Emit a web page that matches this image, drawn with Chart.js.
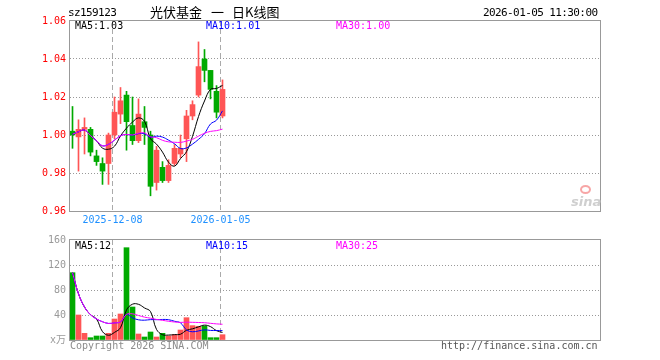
<!DOCTYPE html>
<html>
<head>
<meta charset="utf-8">
<script src="https://cdn.jsdelivr.net/npm/chart.js@4.4.1/dist/chart.umd.min.js"></script>
<style>
body { margin: 0; background: #fff; }
#wrap { position: relative; width: 660px; height: 360px; overflow: hidden; font-family: 'DejaVu Sans Mono', monospace; }
canvas { position: absolute; left: 0; }
.t { position: absolute; white-space: pre; font-size: 10px; line-height: 12px; }
.big { font-size: 11px; line-height: 13px; letter-spacing: -0.6px; }
.cn { position: absolute; font-family: 'Noto Sans CJK SC', sans-serif; font-size: 13px; line-height: 14px; color: #000; }
</style>
</head>
<body>
<div id="wrap">
  <canvas id="priceChart" width="660" height="230" style="top:0"></canvas>
  <canvas id="volChart" width="660" height="130" style="top:230px"></canvas>

  <div class="t big" style="left:68px;top:6px">sz159123</div>
  <div class="cn" style="left:150px;top:5px">光伏基金</div>
  <div class="cn" style="left:211px;top:5px">一</div>
  <div class="cn" style="left:232px;top:5px">日K线图</div>
  <div class="t big" style="left:483px;top:6px">2026-01-05 11:30:00</div>

  <div class="t" style="left:75px;top:20px;color:#000">MA5:1.03</div>
  <div class="t" style="left:206px;top:20px;color:#0000ff">MA10:1.01</div>
  <div class="t" style="left:336px;top:20px;color:#ff00ff">MA30:1.00</div>

  <div class="t" style="left:75px;top:240px;color:#000">MA5:12</div>
  <div class="t" style="left:206px;top:240px;color:#0000ff">MA10:15</div>
  <div class="t" style="left:336px;top:240px;color:#ff00ff">MA30:25</div>

  <div class="t" style="left:70px;top:340px;color:#8c8c8c">Copyright 2026 SINA.COM</div>
  <div class="t" style="left:441px;top:340px;color:#555">http://finance.sina.com.cn</div>

  <div style="position:absolute;left:580px;top:185px;width:7px;height:5px;border:2px solid #f7a6a6;border-radius:50%"></div>
  <div class="t" style="left:571px;top:194px;font-family:'DejaVu Sans',sans-serif;font-size:13px;line-height:15px;font-weight:bold;font-style:italic;color:#cfcfcf">sina</div>
</div>

<script>
// 日期 (上市首日 2025-11-27)
const dates = ['2025-11-27', '2025-11-28', '2025-12-01', '2025-12-02', '2025-12-03', '2025-12-04', '2025-12-05',
  '2025-12-08', '2025-12-09', '2025-12-10', '2025-12-11', '2025-12-12', '2025-12-15', '2025-12-16', '2025-12-17',
  '2025-12-18', '2025-12-19', '2025-12-22', '2025-12-23', '2025-12-24', '2025-12-25', '2025-12-26', '2025-12-29',
  '2025-12-30', '2025-12-31', '2026-01-05'];
const labelDays = [7, 25];

const openP  = [1.002, 0.999, 1.003, 1.003, 0.989, 0.985, 0.985, 1.000, 1.011, 1.021, 1.005, 0.997, 1.007,
                1.000, 0.975, 0.983, 0.976, 0.985, 0.990, 0.998, 1.010, 1.021, 1.040, 1.034, 1.023, 1.010];
const highP  = [1.015, 1.008, 1.009, 1.004, 0.992, 0.988, 1.001, 1.020, 1.025, 1.023, 1.020, 1.019, 1.015,
                1.002, 0.994, 0.986, 0.987, 0.995, 1.000, 1.013, 1.018, 1.049, 1.045, 1.034, 1.026, 1.029];
const lowP   = [0.993, 0.981, 0.990, 0.989, 0.984, 0.974, 0.974, 0.998, 1.006, 0.992, 0.995, 0.996, 0.995,
                0.968, 0.971, 0.975, 0.975, 0.984, 0.988, 0.986, 1.008, 1.020, 1.028, 1.019, 1.009, 1.009];
const closeP = [1.000, 1.003, 1.004, 0.991, 0.986, 0.981, 1.000, 1.012, 1.018, 1.007, 0.997, 1.011, 1.004,
                0.973, 0.992, 0.976, 0.984, 0.993, 0.993, 1.010, 1.016, 1.036, 1.034, 1.024, 1.012, 1.024];

const ma5  = [1.0004, 1.0017, 1.0026, 0.9997, 0.9970, 0.9931, 0.9925, 0.9941, 0.9995, 1.0036, 1.0068, 1.0090, 1.0072,
              0.9981, 0.9952, 0.9910, 0.9857, 0.9836, 0.9876, 0.9912, 0.9993, 1.0097, 1.0179, 1.0240, 1.0245, 1.0261];
const ma10 = [1.0004, 1.0017, 1.0026, 0.9997, 0.9970, 0.9943, 0.9951, 0.9973, 0.9996, 1.0003, 0.9999, 1.0007, 1.0006,
              0.9988, 0.9994, 0.9989, 0.9973, 0.9954, 0.9929, 0.9932, 0.9952, 0.9977, 1.0007, 1.0058, 1.0078, 1.0127];
const ma30 = [1.0004, 1.0017, 1.0026, 0.9997, 0.9970, 0.9943, 0.9951, 0.9973, 0.9996, 1.0003, 1.0000, 1.0009, 1.0011,
              0.9991, 0.9986, 0.9972, 0.9964, 0.9962, 0.9961, 0.9968, 0.9977, 0.9994, 1.0009, 1.0019, 1.0023, 1.0031];

// 成交量 (万手)
const volume  = [107.7, 40, 10.7, 3.7, 6.4, 6.4, 10.7, 33.6, 41.6, 147.7, 52.8, 9.6, 4.8,
                 12.8, 4.8, 10.7, 6.4, 8.5, 16, 35.7, 23, 22, 22.4, 3.7, 3.7, 8.5];
const volMa5  = [107.7, 73.9, 52.8, 40.5, 33.7, 13.4, 7.6, 12.2, 19.7, 48.0, 57.3, 57.1, 51.3,
                 45.5, 17.0, 8.5, 7.9, 8.6, 9.3, 15.5, 17.9, 21.0, 23.8, 21.4, 15.0, 12.1];
const volMa10 = [107.7, 73.9, 52.8, 40.5, 33.7, 29.2, 26.5, 27.4, 29.0, 40.9, 35.4, 32.3, 31.7,
                 32.6, 32.5, 32.9, 32.5, 30.0, 27.4, 16.2, 13.2, 14.5, 16.2, 15.3, 15.2, 15.0];
const volMa30 = [107.7, 73.9, 52.8, 40.5, 33.7, 29.2, 26.5, 27.4, 29.0, 40.9, 41.9, 39.2, 36.6,
                 34.9, 32.9, 31.5, 30.0, 28.8, 28.2, 28.5, 28.3, 28.0, 27.7, 26.7, 25.8, 25.2];

const priceTicks = [0.96, 0.98, 1.00, 1.02, 1.04, 1.06];
const volTicks = [0, 40, 80, 120, 160];

const UP = '#ff5555', DOWN = '#00aa00';
const MONO = "'DejaVu Sans Mono', 'Noto Sans CJK SC', monospace";
const candleColors = closeP.map((c, i) => c >= openP[i] ? UP : DOWN);
const pts = arr => arr.map((v, i) => ({ x: i, y: v }));

function maLine(label, data, color, order) {
    return { type: 'line', label: label, data: pts(data), borderColor: color, borderWidth: 1,
             pointRadius: 0, tension: 0.4, order: order };
}

// 每天 6px
function dayAxis(showLabels) {
    return {
        type: 'linear', min: -0.4167, max: 87.9167, offset: false,
        afterBuildTicks: s => { s.ticks = labelDays.map(i => ({ value: i - 0.33 })); },
        afterFit: s => { s.height = showLabels ? 19 : 20; },
        grid: { color: '#aaa', lineWidth: 1, drawTicks: false, offset: false },
        border: { display: false, dash: [5, 3] },
        ticks: { display: showLabels, color: '#1e90ff', padding: 3, maxRotation: 0, autoSkip: false,
                 font: { family: MONO, size: 10 }, callback: v => dates[Math.round(v)] }
    };
}

function valueAxis(min, max, ticks, color, fmt) {
    return {
        min: min, max: max,
        afterFit: s => { s.width = 70; },
        afterBuildTicks: s => { s.ticks = ticks.map(v => ({ value: v })); },
        grid: { drawTicks: false,
                color: c => (c.index === 0 || c.index === ticks.length - 1) ? 'rgba(0,0,0,0)' : '#999' },
        border: { display: false, dash: [1, 2] },
        ticks: { color: color, padding: 4, font: { family: MONO, size: 10 }, callback: fmt }
    };
}

const framePlugin = {
    id: 'frame',
    beforeDatasetsDraw(chart) {
        const { ctx, chartArea: a } = chart;
        ctx.save();
        ctx.strokeStyle = '#999';
        ctx.lineWidth = 1;
        ctx.strokeRect(a.left - 0.5, a.top - 0.5, a.right - a.left + 1, a.bottom - a.top + 1);
        ctx.restore();
    }
};

const common = {
    responsive: false, animation: false, events: [],
    plugins: { legend: { display: false }, tooltip: { enabled: false } }
};

new Chart(document.getElementById('priceChart').getContext('2d'), {
    type: 'bar',
    data: {
        datasets: [
            maLine('MA30', ma30, '#ff00ff', 0),
            maLine('MA10', ma10, '#0000ff', 1),
            maLine('MA5', ma5, '#000000', 2),
            { type: 'bar', label: 'body', data: openP.map((o, i) => ({ x: i, y: [o, closeP[i]] })),
              backgroundColor: candleColors, barThickness: 5, grouped: false, order: 3 },
            { type: 'bar', label: 'wick', data: lowP.map((l, i) => ({ x: i, y: [l, highP[i]] })),
              backgroundColor: candleColors, barThickness: 1, grouped: false, order: 4 }
        ]
    },
    options: Object.assign({}, common, {
        layout: { padding: { top: 21, right: 60, left: 0, bottom: 0 } },
        scales: {
            x: dayAxis(true),
            y: valueAxis(0.96, 1.06, priceTicks, '#ff0000', v => v.toFixed(2))
        }
    }),
    plugins: [framePlugin]
});

new Chart(document.getElementById('volChart').getContext('2d'), {
    type: 'bar',
    data: {
        datasets: [
            maLine('MA30', volMa30, '#ff00ff', 0),
            maLine('MA10', volMa10, '#0000ff', 1),
            maLine('MA5', volMa5, '#000000', 2),
            { type: 'bar', label: 'vol', data: pts(volume),
              backgroundColor: candleColors, barThickness: 5, grouped: false, order: 3 }
        ]
    },
    options: Object.assign({}, common, {
        layout: { padding: { top: 10, right: 60, left: 0, bottom: 0 } },
        scales: {
            x: dayAxis(false),
            y: valueAxis(0, 160, volTicks, '#999', v => v === 0 ? 'x万' : String(v))
        }
    }),
    plugins: [framePlugin]
});
</script>
</body>
</html>
